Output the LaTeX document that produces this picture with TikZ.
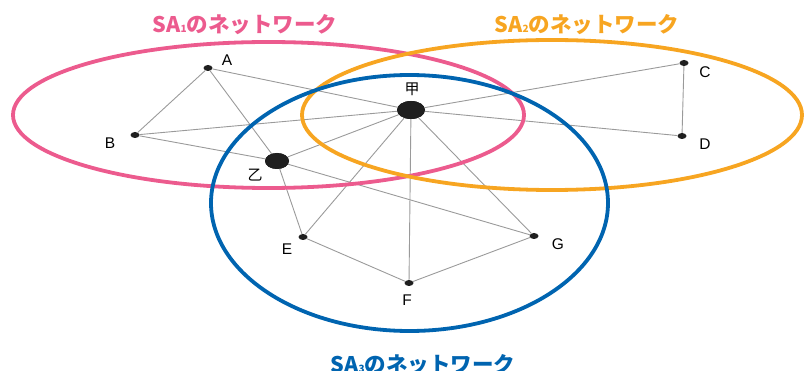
\documentclass[tikz,border=0pt]{standalone}
\usepackage{fontspec}
\setmainfont{Liberation Sans}
\newfontfamily\jpfont{Noto Sans CJK JP}
\definecolor{NetPink}{HTML}{EC5B8E}
\definecolor{NetOrange}{HTML}{F7A521}
\definecolor{NetBlue}{HTML}{0064B0}
\definecolor{EdgeGray}{HTML}{9A9A9A}
\usetikzlibrary{shapes.geometric}

\newcommand{\netlabel}[1]{\jpfont\bfseries SA{\fontsize{10}{10}\selectfont #1}のネットワーク}

\begin{document}
\begin{tikzpicture}[x=1pt,y=-1pt,
    dot/.style={ellipse,fill=black!88,inner sep=0pt,
      minimum width=9pt,minimum height=6pt},
    bigdot/.style={ellipse,fill=black!88,inner sep=0pt},
    tag/.style={font=\fontsize{15.5}{16}\selectfont,inner sep=0pt},
    kanji/.style={font=\jpfont\fontsize{15}{15}\selectfont,inner sep=0pt},
    title/.style={font=\fontsize{21.5}{22}\selectfont,inner sep=0pt,anchor=base},
    link/.style={draw=EdgeGray,line width=0.9pt},
    net/.style={line width=3.8pt}
  ]
    \useasboundingbox (0,0) rectangle (804,371);

    % network members
    \node[dot] (a) at (208,68) {};
    \node[dot] (b) at (135,135) {};
    \node[dot] (c) at (684,63) {};
    \node[dot] (d) at (682,136) {};
    \node[bigdot,minimum width=28pt,minimum height=18pt] (ko) at (411,110) {};
    \node[bigdot,minimum width=24pt,minimum height=16pt] (otsu) at (277,161) {};
    \node[dot] (e) at (303,237) {};
    \node[dot] (f) at (409,283) {};
    \node[dot] (g) at (534,236) {};

    % links
    \draw[link] (a) -- (b);
    \draw[link] (a) -- (ko);
    \draw[link] (a) -- (otsu);
    \draw[link] (b) -- (ko);
    \draw[link] (b) -- (otsu);
    \draw[link] (c) -- (ko);
    \draw[link] (c) -- (d);
    \draw[link] (d) -- (ko);
    \draw[link] (otsu) -- (ko);
    \draw[link] (otsu) -- (e);
    \draw[link] (otsu) -- (g);
    \draw[link] (ko) -- (e);
    \draw[link] (ko) -- (f);
    \draw[link] (ko) -- (g);
    \draw[link] (e) -- (f);
    \draw[link] (f) -- (g);

    % SA areas
    \draw[net,NetPink] (268.5,115) ellipse [x radius=255.5,y radius=73];
    \draw[net,NetOrange] (552,115) ellipse [x radius=250,y radius=75];
    \draw[net,NetBlue] (409.5,203) ellipse [x radius=198.5,y radius=128];

    % keep the dots on top
    \fill[black!88] (ko) ellipse [x radius=14,y radius=9];
    \fill[black!88] (otsu) ellipse [x radius=12,y radius=8];

    % names
    \node[tag] (ta) at (227,60) {A};
    \node[tag] (tb) at (110,143) {B};
    \node[tag] (tc) at (705,72) {C};
    \node[tag] (td) at (705,144) {D};
    \node[kanji] (tko) at (412,89) {甲};
    \node[kanji] (totsu) at (255,175) {乙};
    \node[tag] (te) at (287,249) {E};
    \node[tag] (tf) at (407,300) {F};
    \node[tag] (tg) at (558,244) {G};

    \node[title,text=NetPink] (sa1) at (245,33) {\netlabel{1}};
    \node[title,text=NetOrange] (sa2) at (587,33) {\netlabel{2}};
    \node[title,text=NetBlue] (sa3) at (423,373) {\netlabel{3}};
  \end{tikzpicture}
\end{document}
